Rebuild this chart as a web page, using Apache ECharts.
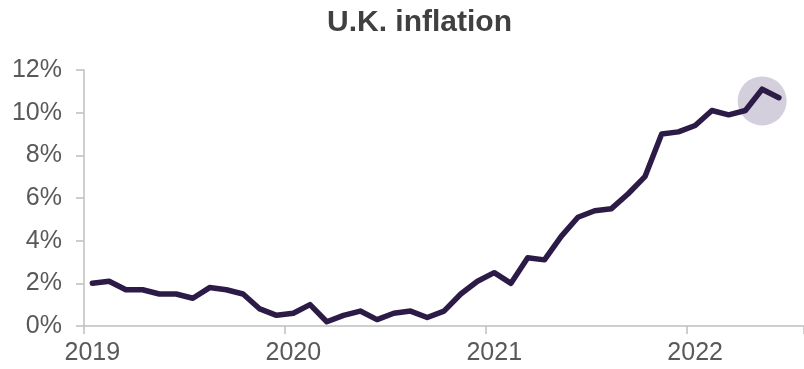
<!DOCTYPE html>
<html>
<head>
<meta charset="utf-8">
<title>U.K. inflation</title>
<script src="https://cdn.jsdelivr.net/npm/echarts@6/dist/echarts.min.js"></script>
<style>
  html, body { margin: 0; padding: 0; background: #ffffff; }
  #chart { width: 804px; height: 369px; }
</style>
</head>
<body>
<div id="chart"></div>
<script>
// Monthly categories along the time axis
const months = [
  '2019-01','2019-02','2019-03','2019-04','2019-05','2019-06','2019-07','2019-08','2019-09','2019-10','2019-11','2019-12',
  '2020-01','2020-02','2020-03','2020-04','2020-05','2020-06','2020-07','2020-08','2020-09','2020-10','2020-11','2020-12',
  '2021-01','2021-02','2021-03','2021-04','2021-05','2021-06','2021-07','2021-08','2021-09','2021-10','2021-11','2021-12',
  '2022-01','2022-02','2022-03','2022-04','2022-05','2022-06','2022-07'
];

// Annual inflation rate, %
const inflation = [
  2.0, 2.1, 1.7, 1.7, 1.5, 1.5, 1.3, 1.8, 1.7, 1.5, 0.8, 0.5,
  0.6, 1.0, 0.2, 0.5, 0.7, 0.3, 0.6, 0.7, 0.4, 0.7, 1.5, 2.1,
  2.5, 2.0, 3.2, 3.1, 4.2, 5.1, 5.4, 5.5, 6.2, 7.0, 9.0, 9.1,
  9.4, 10.1, 9.9, 10.1, 11.1, 10.7
];

// Highlighted latest peak
const highlightMonth = ['2022-05'];
const highlightValue = [10.55];

// Year labels on the x axis
const yearLabels = { '2019-01': '2019', '2020-01': '2020', '2021-01': '2021', '2022-01': '2022' };

const chart = echarts.init(document.getElementById('chart'), null, { renderer: 'canvas' });

const axisGrey = '#bfbfbf';
const textGrey = '#595959';
const fontFamily = '"Liberation Sans", Arial, sans-serif';

chart.setOption({
  animation: false,
  backgroundColor: '#ffffff',
  title: {
    text: 'U.K. inflation',
    left: 322,
    top: 3,
    textStyle: {
      fontFamily: fontFamily,
      fontSize: 30,
      fontWeight: 'bold',
      color: '#404040'
    }
  },
  grid: { left: 84, right: -4, top: 70, bottom: 43, containLabel: false },
  xAxis: {
    type: 'category',
    data: months,
    boundaryGap: true,
    axisLine: { show: true, lineStyle: { color: axisGrey, width: 1.5 } },
    axisTick: {
      show: true,
      length: 8,
      interval: (i) => i % 12 === 0,
      lineStyle: { color: axisGrey, width: 1.5 }
    },
    axisLabel: {
      interval: (i) => i % 12 === 0,
      formatter: (v) => yearLabels[v] || '',
      margin: 15,
      fontFamily: fontFamily,
      fontSize: 25,
      color: textGrey
    },
    splitLine: { show: false }
  },
  yAxis: {
    type: 'value',
    min: 0,
    max: 12,
    interval: 2,
    axisLine: { show: true, lineStyle: { color: axisGrey, width: 1.5 } },
    axisTick: { show: true, length: 8, lineStyle: { color: axisGrey, width: 1.5 } },
    axisLabel: {
      formatter: '{value}%',
      margin: 22,
      fontFamily: fontFamily,
      fontSize: 25,
      color: textGrey
    },
    splitLine: { show: false }
  },
  series: [
    {
      type: 'scatter',
      data: highlightMonth.map((m, i) => [m, highlightValue[i]]),
      symbol: 'circle',
      symbolSize: 49,
      itemStyle: { color: '#c9c3d3' },
      silent: true,
      z: 1
    },
    {
      type: 'line',
      data: inflation,
      symbol: 'none',
      lineStyle: { color: '#2d1b47', width: 5.5, join: 'round', cap: 'round' },
      silent: true,
      z: 2
    }
  ]
});
</script>
</body>
</html>
